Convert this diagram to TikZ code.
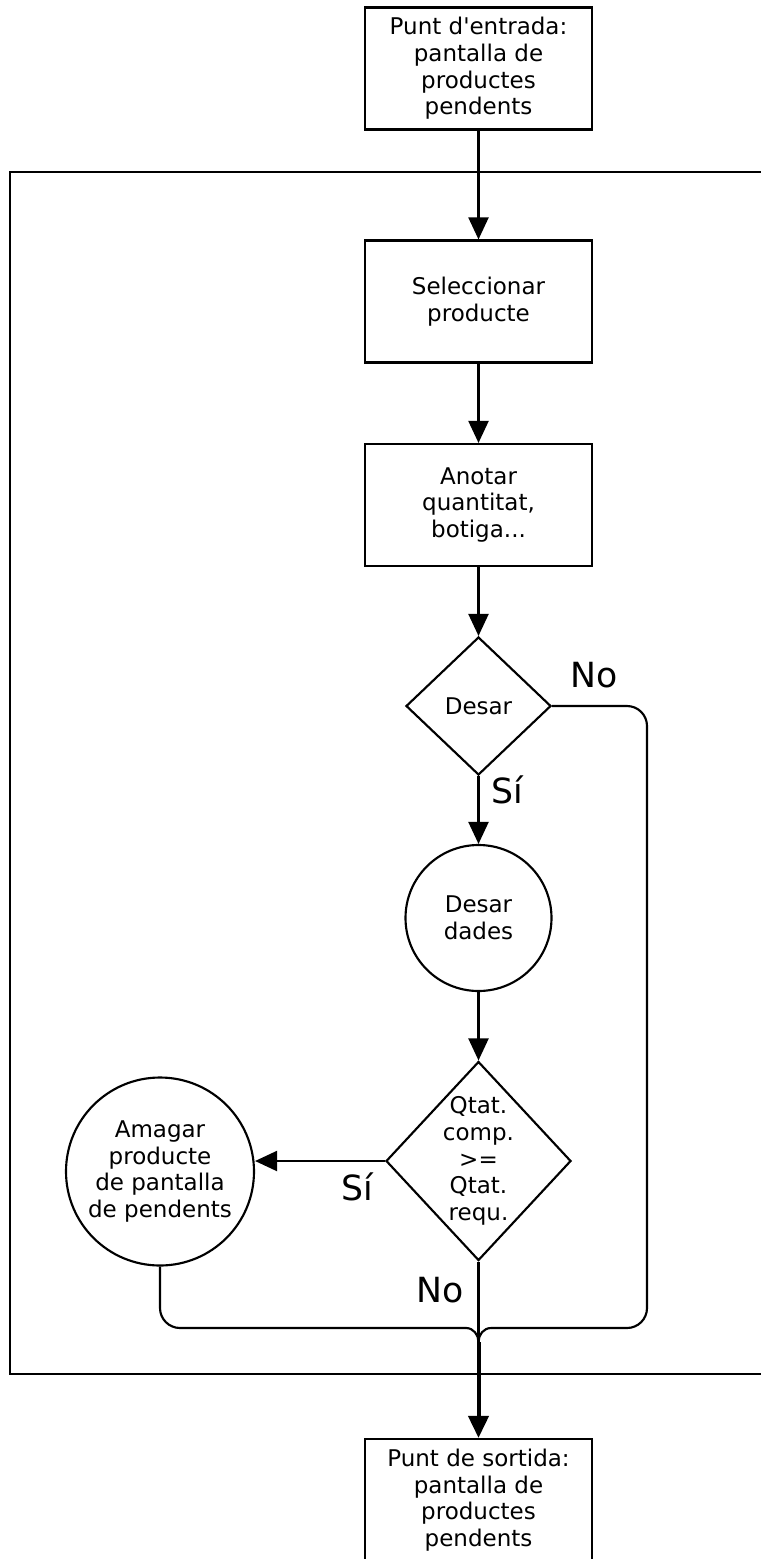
\documentclass[tikz,border=0pt]{standalone}
\usepackage{fontspec}
\setmainfont{DejaVu Sans}
\usetikzlibrary{shapes.geometric,arrows.meta}
\begin{document}
\begin{tikzpicture}[x=0.75pt,y=-0.75pt,line width=1.6pt,
  every node/.style={font=\fontsize{17.25}{20}\selectfont, align=center, inner sep=0pt},
  stepbox/.style={draw, rectangle, minimum width=170pt, minimum height=91.5pt},
  decision/.style={draw, diamond},
  roundbox/.style={draw, circle},
  arr/.style={-{Triangle[width=15pt,length=16.5pt]}},
  bigarr/.style={line width=3pt,-{Triangle[width=15pt,length=16.5pt]}},
  lbl/.style={font=\fontsize{26}{31}\selectfont}]
  % canvas
  \fill[white] (0,0) rectangle (760,1559);
  \useasboundingbox (0,0) rectangle (760,1559);

  % loop frame (open to the right)
  \draw (780,172) -| (10,1374) -- (780,1374);

  % nodes
  \node[stepbox] (in) at (478.5,68.5) {Punt d\textquotesingle entrada:\\pantalla de\\productes\\pendents};
  \node[stepbox] (sel) at (478.5,301.5) {Seleccionar\\producte};
  \node[stepbox] (ano) at (478.5,505) {Anotar\\quantitat,\\botiga...};
  \node[decision, minimum width=108.75pt, minimum height=103.5pt] (d1) at (478.5,706) {Desar};
  \node[roundbox, minimum size=109.5pt] (sv) at (478.5,918) {Desar\\dades};
  \node[decision, inner xsep=-6pt, minimum width=138.75pt, minimum height=149.25pt] (q) at (478.5,1161) {Qtat.\\comp.\\>=\\Qtat.\\requ.};
  \node[roundbox, minimum size=141pt] (am) at (160,1171.5) {Amagar\\producte\\de pantalla\\de pendents};
  \node[stepbox] (out) at (478.5,1500) {Punt de sortida:\\pantalla de\\productes\\pendents};

  % junction points of the merge
  \coordinate (m) at (478.5,1342);
  \coordinate (jl) at (466,1328);
  \coordinate (jr) at (491,1328);
  \coordinate (lc) at (160,1328);
  \coordinate (rc) at (647,1328);

  % connectors
  \draw[arr] (in.south) -- (sel.north);
  \draw[arr] (sel.south) -- (ano.north);
  \draw[arr] (ano.south) -- (d1.north);
  \draw[arr] (d1.south) -- (sv.north);
  \draw[arr] (sv.south) -- (q.north);
  \draw[arr] (q.west) -- (q.west -| am.east);
  \draw[rounded corners=15pt] (d1.east) -| (rc) -- (jr);
  \draw (jr) to[out=180,in=90] (m);
  \draw[rounded corners=15pt] (am.south) -- (lc) -- (jl);
  \draw (jl) to[out=0,in=90] (m);
  \draw (q.south) -- (m);
  \draw[bigarr] (m) -- (out.north);

  % branch labels
  \node[lbl] (no1) at (594,675) {No};
  \node[lbl] (si1) at (507,790) {Sí};
  \node[lbl] (si2) at (357,1187) {Sí};
  \node[lbl] (no2) at (440,1290) {No};
\end{tikzpicture}
\end{document}
